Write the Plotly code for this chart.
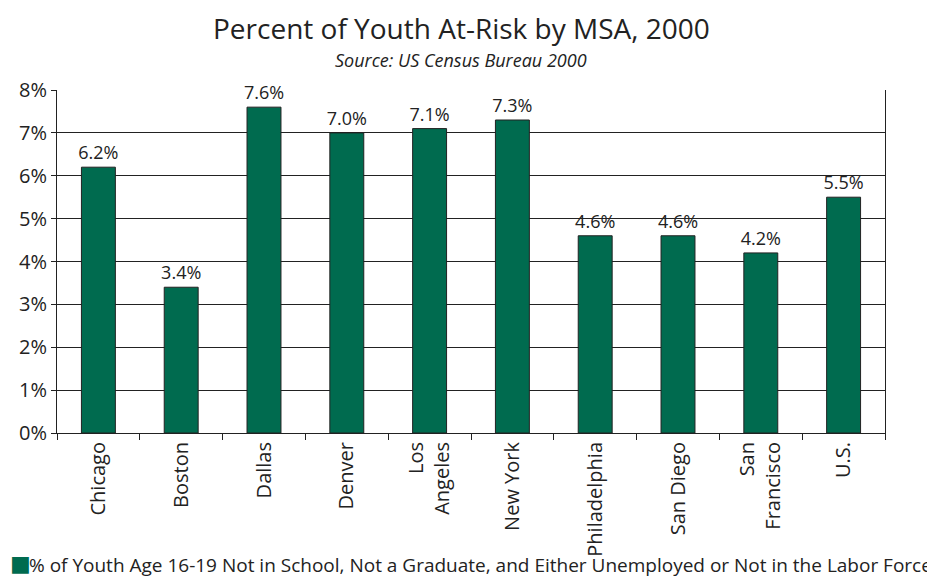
import plotly.graph_objects as go

msa = ["Chicago", "Boston", "Dallas", "Denver", "Los<br>Angeles", "New York",
       "Philadelphia", "San Diego", "San<br>Francisco", "U.S."]
pct_at_risk = [6.2, 3.4, 7.6, 7.0, 7.1, 7.3, 4.6, 4.6, 4.2, 5.5]
y_ticks = [0, 1, 2, 3, 4, 5, 6, 7, 8]
series_name = ("% of Youth Age 16-19 Not in School, Not a Graduate, "
               "and Either Unemployed or Not in the Labor Force")

GREEN = "#006b4f"
INK = "#222222"
FONT = "Open Sans"

fig = go.Figure()
fig.add_trace(
    go.Bar(
        x=msa,
        y=pct_at_risk,
        name=series_name,
        marker=dict(color=GREEN, line=dict(color=INK, width=1)),
        width=0.41,
        text=[f"{v:.1f}%" for v in pct_at_risk],
        textposition="outside",
        constraintext="none",
        textfont=dict(size=18, color=INK, family=FONT),
        cliponaxis=False,
    )
)

# page body has an 8px margin, so the figure is sized to fit the window
fig.update_layout(
    width=927,
    height=571,
    paper_bgcolor="white",
    plot_bgcolor="white",
    margin=dict(l=49, r=50, t=82, b=146, autoexpand=False),
    font=dict(family=FONT, color=INK),
    showlegend=False,
    annotations=[
        dict(text="Percent of Youth At-Risk by MSA, 2000",
             xref="paper", yref="paper", x=0.5, xshift=-10, y=1.0, yshift=82,
             xanchor="center", yanchor="top", showarrow=False, borderpad=0,
             font=dict(size=28, family=FONT, color=INK)),
        dict(text="<i>Source: US Census Bureau 2000</i>",
             xref="paper", yref="paper", x=0.5, xshift=-10, y=1.0, yshift=30,
             xanchor="center", yanchor="middle", showarrow=False,
             font=dict(size=18, family=FONT, color=INK)),
        # legend swatch and label
        dict(text="■",
             xref="paper", yref="paper", x=0.0, xshift=-37, y=0.0, yshift=-130,
             xanchor="center", yanchor="middle", showarrow=False, borderpad=0,
             font=dict(size=22, family="DejaVu Sans", color=GREEN)),
        dict(text=series_name,
             xref="paper", yref="paper", x=0.0, xshift=-29, y=0.0, yshift=-146,
             xanchor="left", yanchor="bottom", showarrow=False, borderpad=0,
             font=dict(size=19, family=FONT, color=INK)),
    ],
)

fig.update_xaxes(
    tickangle=-90,
    tickfont=dict(size=20, family=FONT),
    ticks="outside",
    tickson="boundaries",
    ticklen=6,
    tickcolor=INK,
    showline=True,
    linecolor=INK,
    linewidth=1,
)
fig.update_yaxes(
    range=[0, 8],
    tickvals=y_ticks,
    ticktext=[f"{v}%" for v in y_ticks],
    tickfont=dict(size=20, family=FONT),
    ticks="outside",
    ticklen=5,
    tickcolor=INK,
    showgrid=True,
    gridcolor=INK,
    gridwidth=1,
    showline=True,
    mirror=True,
    linecolor=INK,
    linewidth=1,
    zeroline=False,
)

fig.write_html("out.html")
